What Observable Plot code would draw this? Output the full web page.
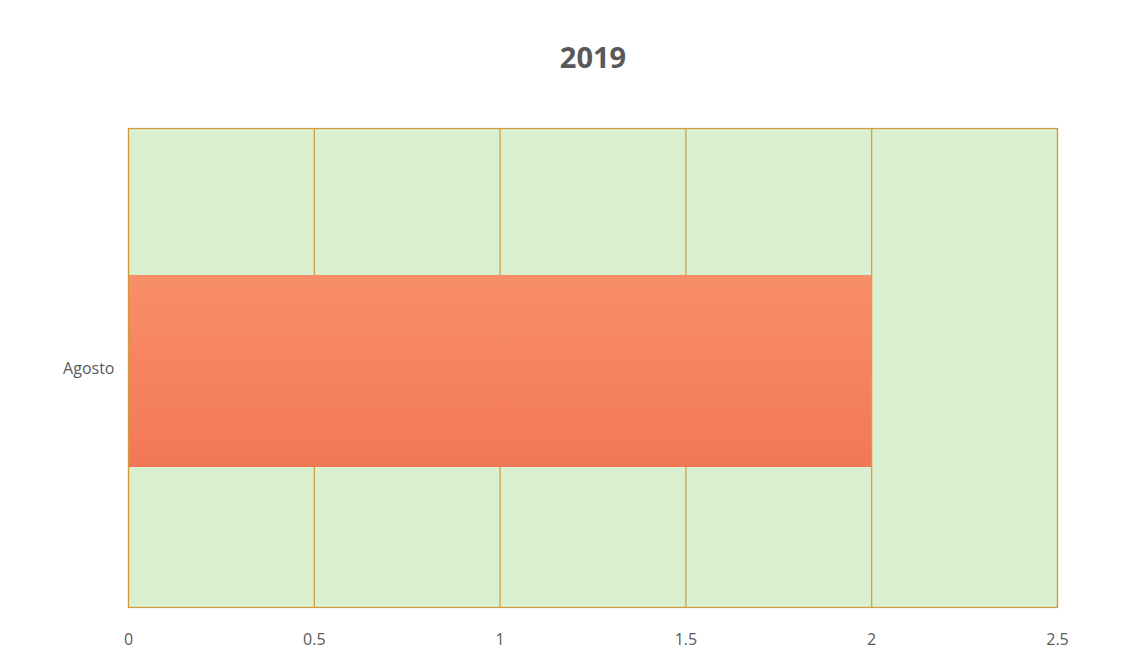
<!DOCTYPE html>
<html><head><meta charset="utf-8">
<script src="https://cdn.jsdelivr.net/npm/d3@7"></script>
<script src="https://cdn.jsdelivr.net/npm/@observablehq/plot@0.6"></script>
<style>body{margin:0;background:#fff;font-family:"Open Sans",sans-serif}</style>
</head><body><div id="chart"></div>
<script>
const title = "2019";
const months = ["Agosto"];
const values = [2];
const xTicks = [0, 0.5, 1, 1.5, 2, 2.5];

const data = months.map((m, i) => ({month: m, value: values[i]}));

const chart = Plot.plot({
  width: 1131,
  height: 665,
  marginTop: 128,
  marginLeft: 128,
  marginRight: 74,
  marginBottom: 58,
  style: {fontFamily: "Open Sans, sans-serif", fontSize: "16px", color: "#595959", background: "#fff"},
  x: {domain: [0, 2.5], ticks: xTicks, tickFormat: d => String(d), label: null},
  y: {domain: months, padding: 0.415, label: null},
  marks: [
    Plot.frame({fill: "#d9efcf", stroke: "none"}),
    Plot.gridX(xTicks, {stroke: "#d19a3a", strokeOpacity: 1, strokeWidth: 1.2}),
    Plot.barX(data, {x: "value", y: "month", insetTop: 6, fill: "url(#barGrad)", style: "filter: drop-shadow(1px 2px 1.5px rgba(0,0,0,0.3))"}),
    Plot.frame({stroke: "#d19a3a", strokeWidth: 1.2}),
    Plot.axisX(xTicks, {tickSize: 0, tickPadding: 26, fontSize: 16, fill: "#595959", tickFormat: d => String(d), label: null}),
    Plot.axisY({tickSize: 0, tickPadding: 14, fontSize: 16, fill: "#595959", label: null}),
    Plot.text([title], {frameAnchor: "top", dy: -81, text: d => d, fontSize: 29, fontWeight: "bold", fill: "#595959"})
  ]
});

const ns = "http://www.w3.org/2000/svg";
const defs = document.createElementNS(ns, "defs");
defs.innerHTML = `<linearGradient id="barGrad" x1="0" y1="0" x2="0" y2="1">
  <stop offset="0%" stop-color="#f88f69"/>
  <stop offset="50%" stop-color="#f6835e"/>
  <stop offset="100%" stop-color="#f27855"/>
</linearGradient>`;
chart.insertBefore(defs, chart.firstChild);
document.getElementById("chart").appendChild(chart);
</script>
</body></html>
